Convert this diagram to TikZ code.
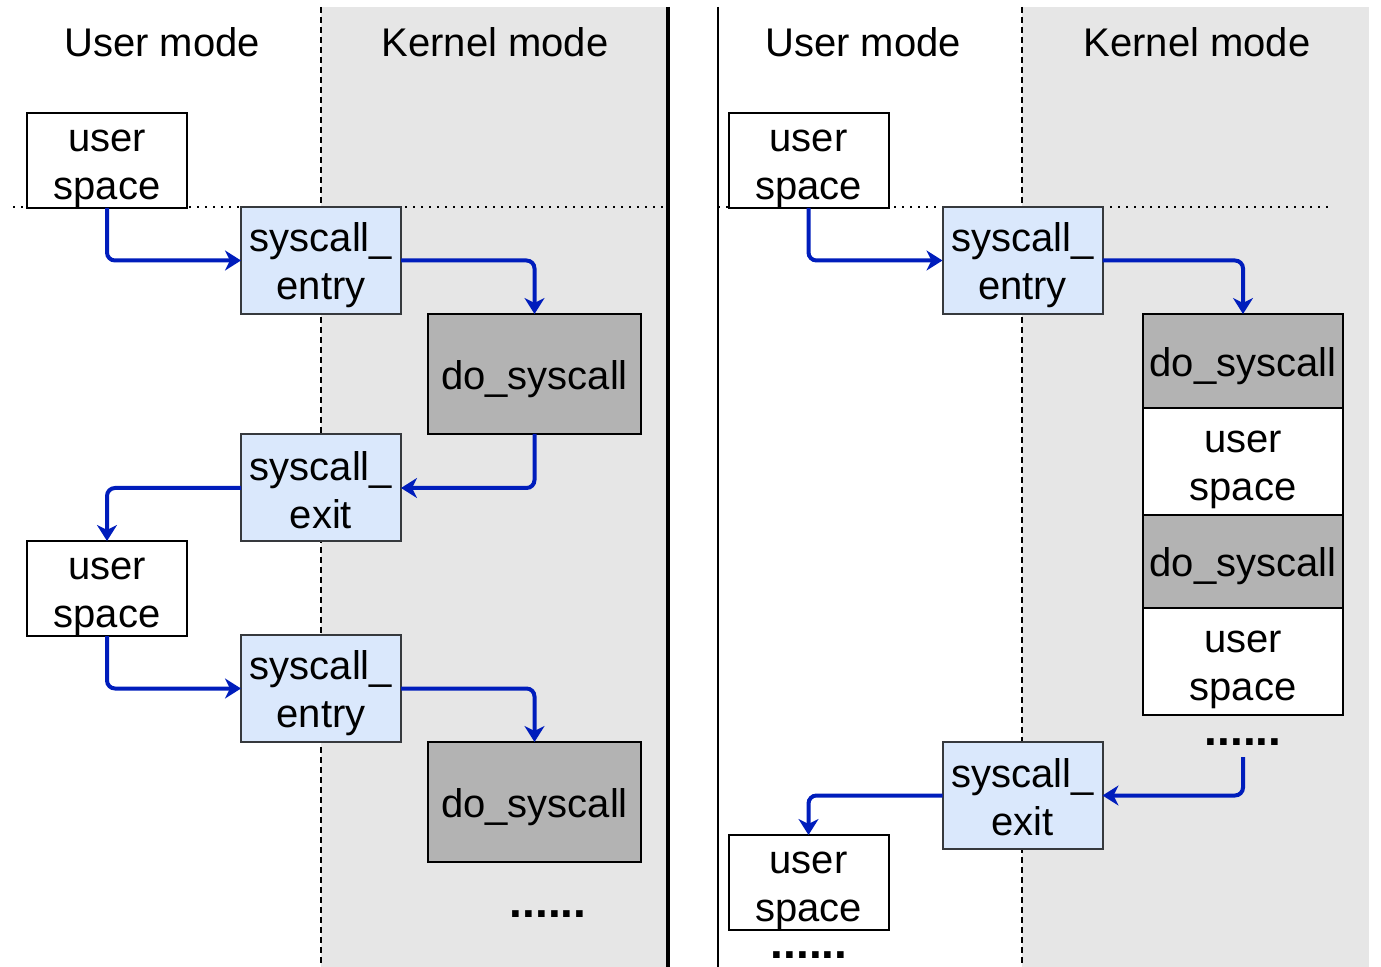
\documentclass[tikz,border=0pt]{standalone}
\usepackage{fontspec}
\setmainfont{Liberation Sans}
\usetikzlibrary{arrows.meta}
\definecolor{bgray}{HTML}{E6E6E6}
\definecolor{dgray}{HTML}{B3B3B3}
\definecolor{lblue}{HTML}{DAE8FC}
\definecolor{ablue}{HTML}{001DBC}
\definecolor{sborder}{HTML}{36393D}
\newcommand\lnstrut{\rule[-3.15pt]{0pt}{22.5pt}}
\begin{document}
\begin{tikzpicture}[x=0.5pt,y=-0.5pt,
  font=\fontsize{20pt}{24pt}\selectfont,
  box/.style={draw=black, line width=1pt, inner sep=0pt, outer sep=0pt, align=center, fill=white},
  usbox/.style={box, minimum width=80pt, minimum height=46.5pt},
  scbox/.style={box, draw=sborder, fill=lblue, minimum width=80pt, minimum height=53.5pt},
  dsbox/.style={box, fill=dgray, minimum width=106.5pt, minimum height=60pt},
  stk/.style={box, minimum width=100pt},
  flow/.style={draw=ablue, line width=2pt, rounded corners=4pt, -{Stealth[length=8pt,width=10pt,inset=2.5pt]}},
  divider/.style={black, line width=0.8pt, dash pattern=on 3pt off 2pt},
  levelline/.style={black, line width=1pt, dash pattern=on 1pt off 3pt},
  moredots/.style={font=\fontsize{23pt}{24pt}\selectfont\bfseries, anchor=base, inner sep=0pt},
  title/.style={inner sep=0pt}
]
\useasboundingbox (0,0) rectangle (1381,967);
% backgrounds
\fill[bgray] (321,7) rectangle (668,967);
\fill[bgray] (1022,7) rectangle (1369,967);
\draw[divider] (321,7) -- (321,967);
\draw[divider] (1022,7) -- (1022,967);
\draw[black, line width=2pt] (668,7) -- (668,967);
\draw[black, line width=1pt] (718,7) -- (718,967);
\draw[levelline] (13,207) -- (668,207);
\draw[levelline] (718,207) -- (1330,207);
% titles
\node[title] (t1) at (162,42) {User mode};
\node[title] (t2) at (495,42) {Kernel mode};
\node[title] (t3) at (863,42) {User mode};
\node[title] (t4) at (1197,42) {Kernel mode};
% left panel
\node[usbox] (us1) at (107,160.5) {\lnstrut user\\\lnstrut space};
\node[scbox] (se1) at (321,260.5) {\lnstrut syscall\_\\\lnstrut entry};
\node[dsbox] (ds1) at (534.5,374) {\lnstrut do\_syscall};
\node[scbox] (sx1) at (321,488) {\lnstrut syscall\_\\\lnstrut exit};
\node[usbox] (us2) at (107,588.5) {\lnstrut user\\\lnstrut space};
\node[scbox] (se2) at (321,688.5) {\lnstrut syscall\_\\\lnstrut entry};
\node[dsbox] (ds2) at (534.5,802) {\lnstrut do\_syscall};
\node[moredots] (dots1) at (548,917) {......};
\draw[flow] (us1.south) |- (se1.west);
\draw[flow] (se1.east) -| (ds1.north);
\draw[flow] (ds1.south) |- (sx1.east);
\draw[flow] (sx1.west) -| (us2.north);
\draw[flow] (us2.south) |- (se2.west);
\draw[flow] (se2.east) -| (ds2.north);
% right panel
\node[usbox] (us3) at (808.5,160.5) {\lnstrut user\\\lnstrut space};
\node[scbox] (se3) at (1022.5,260.5) {\lnstrut syscall\_\\\lnstrut entry};
\node[stk, fill=dgray, minimum height=47pt] (dsA) at (1243,361) {\lnstrut do\_syscall};
\node[stk, minimum height=53.5pt] (usA) at (1243,461.5) {\lnstrut user\\\lnstrut space};
\node[stk, fill=dgray, minimum height=46.5pt] (dsB) at (1243,561.5) {\lnstrut do\_syscall};
\node[stk, minimum height=53.5pt] (usB) at (1243,661.5) {\lnstrut user\\\lnstrut space};
\node[moredots] (dots2) at (1243,745) {......};
\coordinate (c1) at (1243,757);
\node[scbox] (sx3) at (1022.5,795.5) {\lnstrut syscall\_\\\lnstrut exit};
\node[usbox] (us4) at (808.5,882.5) {\lnstrut user\\\lnstrut space};
\node[moredots] (dots3) at (809,958) {......};
\draw[flow] (us3.south) |- (se3.west);
\draw[flow] (se3.east) -| (dsA.north);
\draw[flow] (c1) |- (sx3.east);
\draw[flow] (sx3.west) -| (us4.north);
\end{tikzpicture}
\end{document}
